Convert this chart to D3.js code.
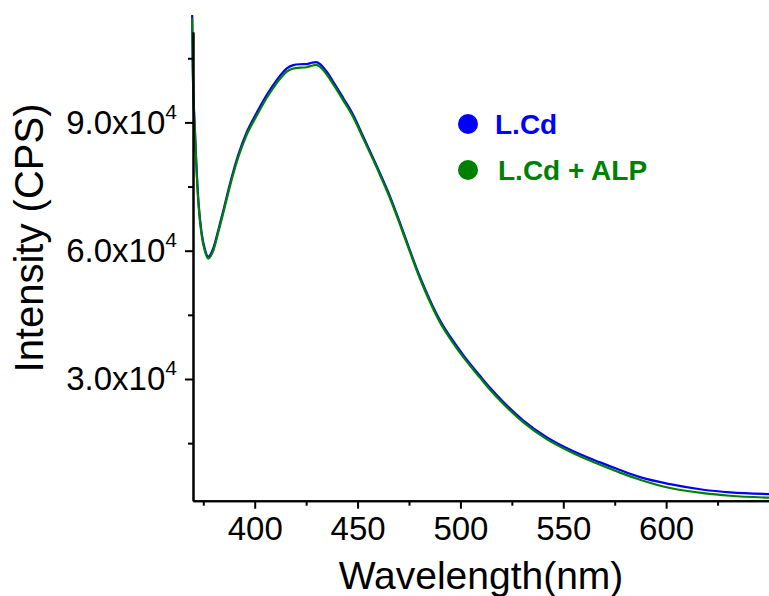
<!DOCTYPE html>
<html>
<head>
<meta charset="utf-8">
<script src="https://cdn.jsdelivr.net/npm/d3@7"></script>
<style>
  html, body { margin: 0; padding: 0; background: #fff; }
  svg { display: block; font-family: Arial, 'Liberation Sans', sans-serif; }
</style>
</head>
<body>
<svg class="canvas" width="769" height="596"></svg>
<script>
'use strict';

// Wavelength (nm) of the sampled points, shared by both curves.
const wavelength = [
  369.6, 369.9, 371.0, 372.6, 374.2, 375.9, 377.4, 379.9, 382.3, 384.8,
  388.0, 392.0, 396.1, 401.0, 405.8, 410.7, 415.6, 418.8, 422.0, 425.2,
  427.7, 429.8, 431.8, 435.0, 438.2, 443.1, 447.9, 452.8, 460.9, 465.8,
  470.7, 475.4, 480.3, 485.2, 490.0, 494.9, 501.4, 509.6, 514.3, 520.9,
  530.6, 541.9, 554.9, 567.9, 577.6, 587.3, 601.9, 618.1, 631.1, 650.0,
];

// Intensity (CPS), L.Cd
const lcd = [
  115100, 103000, 87500, 71850, 64150, 60150, 58600, 60650, 64850, 69500,
  75700, 82400, 87700, 92300, 96400, 99900, 102650, 103400, 103600, 103650,
  103950, 104100, 103650, 101850, 99500, 95650, 91750, 86650, 78100, 72650,
  66400, 60150, 53900, 48450, 43800, 40000, 35600, 30700, 28000, 24600,
  20300, 16400, 13100, 10500, 8700, 7050, 5400, 4100, 3500, 3100,
];

// Intensity (CPS), L.Cd + ALP
const lcdAlp = [
  114400, 102500, 87000, 71300, 63600, 59700, 58150, 60100, 64300, 69000,
  75150, 81850, 87100, 91600, 95700, 99200, 101900, 102600, 102800, 102900,
  103250, 103450, 103000, 101200, 98900, 95100, 91200, 86200, 77700, 72200,
  66000, 59800, 53500, 48000, 43300, 39500, 35100, 30250, 27550, 24150,
  19850, 15950, 12650, 9950, 8100, 6450, 4500, 3300, 2700, 2250,
];

const seriesNames = ['L.Cd', 'L.Cd + ALP'];
const seriesColors = ['#0000ff', '#008000'];

const xMajorTicks = [400, 450, 500, 550, 600];
const xMinorTicks = [375, 425, 475, 525, 575, 625];
const yMajorTicks = [30000, 60000, 90000];
const yMajorLabels = ['3.0x10', '6.0x10', '9.0x10'];
const yExponent = '4';
const yMinorTicks = [15000, 45000, 75000, 105000];

const xDomain = [370, 650];
const yDomain = [1540, 111140];

const width = 769,
  height = 596;
const padding = { top: 32, right: 0, bottom: 95.3, left: 193 };

const xScale = d3.scaleLinear(xDomain, [padding.left, width - padding.right]);
const yScale = d3.scaleLinear(yDomain, [height - padding.bottom, padding.top]);

const d3svg = d3.select('.canvas');
d3svg.append('rect').attr('width', width).attr('height', height).attr('fill', '#fff');

// Curves first, axes drawn over them.
const line = d3
  .line()
  .x((d, i) => xScale(wavelength[i]))
  .y(d => yScale(d))
  .curve(d3.curveMonotoneX);

[lcd, lcdAlp].forEach((values, i) => {
  d3svg
    .append('path')
    .attr('d', line(values))
    .attr('fill', 'none')
    .attr('stroke', seriesColors[i])
    .attr('stroke-width', 2.2)
    .attr('stroke-linejoin', 'round');
});

// Axes.
const axisY = height - padding.bottom;

const xAxis = d3.axisBottom(xScale).tickValues(xMajorTicks).tickSize(8).tickPadding(8).tickSizeOuter(0);
const xMinor = d3.axisBottom(xScale).tickValues(xMinorTicks).tickSize(5).tickFormat('').tickSizeOuter(0);
const yAxis = d3.axisLeft(yScale).tickValues(yMajorTicks).tickSize(8).tickPadding(8).tickSizeOuter(0);
const yMinor = d3.axisLeft(yScale).tickValues(yMinorTicks).tickSize(5).tickFormat('').tickSizeOuter(0);

const gx = d3svg.append('g').attr('transform', `translate(0, ${axisY})`).call(xAxis);
d3svg.append('g').attr('transform', `translate(0, ${axisY})`).call(xMinor);
const gy = d3svg.append('g').attr('transform', `translate(${padding.left}, 0)`).call(yAxis);
d3svg.append('g').attr('transform', `translate(${padding.left}, 0)`).call(yMinor);

d3svg.selectAll('.domain, .tick line').attr('stroke', '#000').attr('stroke-width', 2);

gx.selectAll('text')
  .attr('font-size', 33)
  .attr('font-family', 'Arial, Liberation Sans, sans-serif')
  .attr('fill', '#000')
  .attr('dy', '0.72em');

// y labels get a superscript exponent
gy.selectAll('.tick text').each(function (d, i) {
  const t = d3.select(this).text('')
    .attr('x', -16)
    .attr('dy', '0.33em')
    .attr('font-size', 33)
    .attr('font-family', 'Arial, Liberation Sans, sans-serif')
    .attr('fill', '#000');
  t.append('tspan').text(yMajorLabels[i]);
  t.append('tspan').attr('font-size', 21).attr('dy', -15).text(yExponent);
});

// Axis titles.
d3svg
  .append('text')
  .attr('x', (padding.left + width) / 2)
  .attr('y', 589)
  .attr('text-anchor', 'middle')
  .attr('font-size', 39)
  .text('Wavelength(nm)');

d3svg
  .append('text')
  .attr('transform', 'translate(43, 238) rotate(-90)')
  .attr('text-anchor', 'middle')
  .attr('font-size', 40)
  .text('Intensity (CPS)');

// Legend.
const legendX = 468,
  legendY = [124, 170],
  legendTextX = [495, 498];

seriesNames.forEach((name, i) => {
  d3svg.append('circle')
    .attr('cx', legendX)
    .attr('cy', legendY[i])
    .attr('r', 10)
    .attr('fill', seriesColors[i]);
  d3svg.append('text')
    .attr('x', legendTextX[i])
    .attr('y', legendY[i] + 10)
    .attr('font-size', 28)
    .attr('font-weight', 'bold')
    .attr('fill', seriesColors[i])
    .text(name);
});
</script>
</body>
</html>
